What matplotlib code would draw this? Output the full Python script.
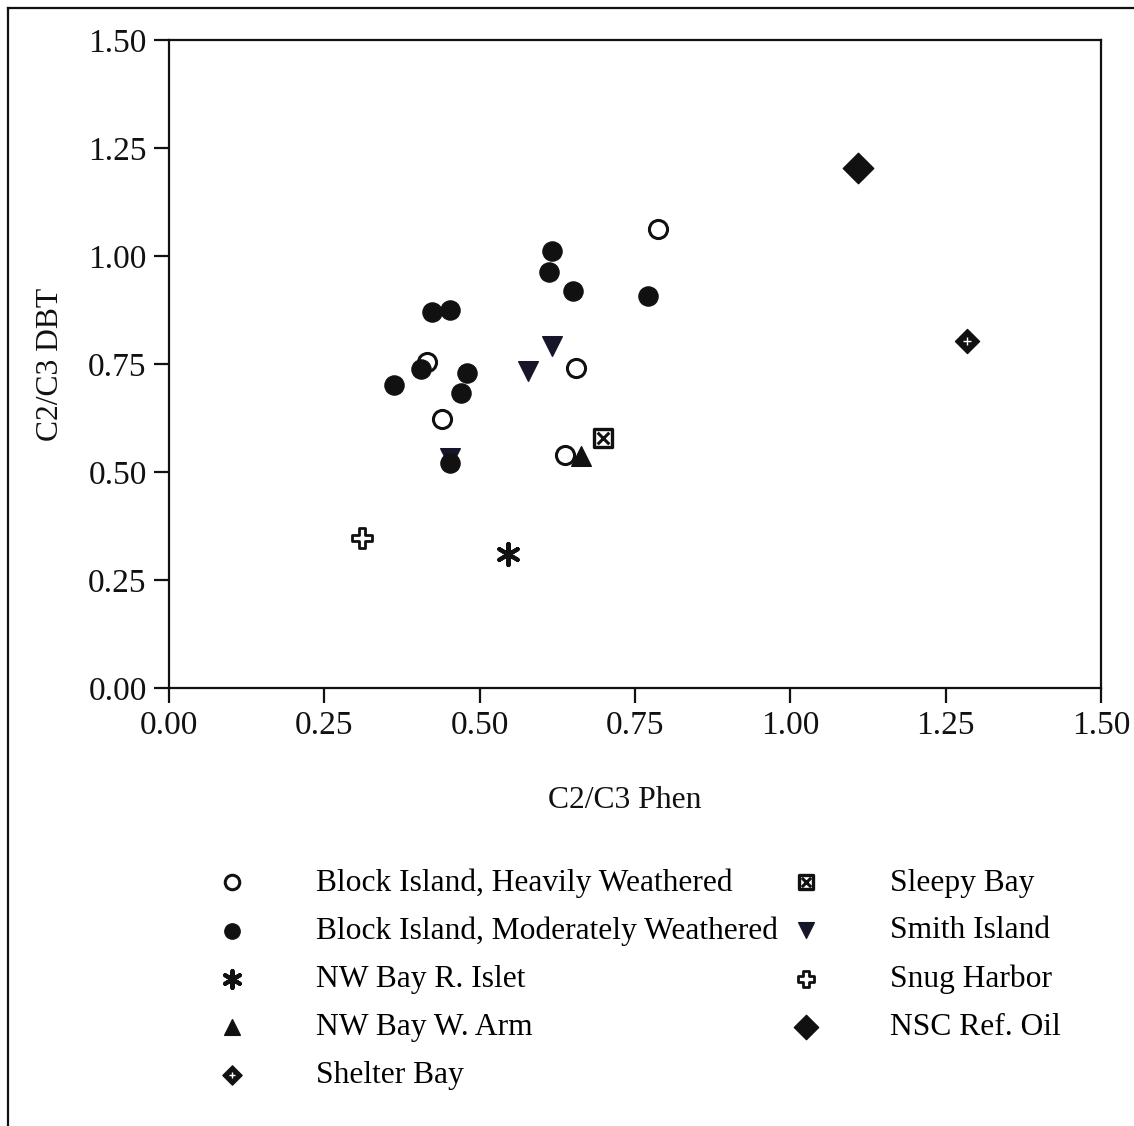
import matplotlib
matplotlib.use("Agg")
import matplotlib.pyplot as plt
from matplotlib.lines import Line2D

plt.rcParams["font.family"] = ["Liberation Serif", "DejaVu Serif"]

# C2/C3 Phen (x) vs C2/C3 DBT (y) for each sample group
heavy_x = [0.787, 0.415, 0.655, 0.439, 0.637]
heavy_y = [1.062, 0.755, 0.741, 0.623, 0.539]

moderate_x = [0.616, 0.611, 0.650, 0.771, 0.423, 0.452, 0.405, 0.362, 0.479, 0.470, 0.452]
moderate_y = [1.012, 0.963, 0.919, 0.907, 0.870, 0.875, 0.738, 0.701, 0.729, 0.683, 0.521]

islet_x = [0.545]
islet_y = [0.310]

warm_x = [0.663]
warm_y = [0.537]

shelter_x = [1.284]
shelter_y = [0.803]

sleepy_x = [0.698]
sleepy_y = [0.579]

smith_x = [0.616, 0.578, 0.452]
smith_y = [0.792, 0.734, 0.533]

snug_x = [0.311]
snug_y = [0.347]

nsc_x = [1.109]
nsc_y = [1.204]

ticks = [0.0, 0.25, 0.5, 0.75, 1.0, 1.25, 1.5]
tick_labels = ["0.00", "0.25", "0.50", "0.75", "1.00", "1.25", "1.50"]

K = "#111111"

fig = plt.figure(figsize=(11.34, 11.26), dpi=100)
ax = fig.add_axes([0.149, 0.389, 0.822, 0.5755])

# smith island triangles drawn first (one sits behind a filled circle)
h_smith = ax.scatter(smith_x, smith_y, marker="v", s=200, c="#16162a", zorder=3)
h_heavy = ax.scatter(heavy_x, heavy_y, marker="o", s=170, facecolors="white",
                     edgecolors=K, linewidths=2.2, zorder=3)
h_mod = ax.scatter(moderate_x, moderate_y, marker="o", s=190, c=K, zorder=4)
h_islet = ax.scatter(islet_x, islet_y, marker=(6, 2, 0), s=230, c=K,
                     linewidths=3, zorder=4)
h_warm = ax.scatter(warm_x, warm_y, marker="^", s=200, c=K, zorder=3)
h_shel1 = ax.scatter(shelter_x, shelter_y, marker="D", s=150, c=K, zorder=4)
h_shel2 = ax.scatter(shelter_x, shelter_y, marker="+", s=35, c="white",
                     linewidths=1.0, zorder=5)
h_sl1 = ax.scatter(sleepy_x, sleepy_y, marker="s", s=170, facecolors="white",
                   edgecolors=K, linewidths=2.4, zorder=4)
h_sl2 = ax.scatter(sleepy_x, sleepy_y, marker="x", s=70, c=K,
                   linewidths=2.2, zorder=5)
h_snug = ax.scatter(snug_x, snug_y, marker="P", s=200, facecolors="white",
                    edgecolors=K, linewidths=2.0, zorder=4)
h_nsc = ax.scatter(nsc_x, nsc_y, marker="D", s=240, c=K, zorder=4)

ax.set_xlim(0, 1.5)
ax.set_ylim(0, 1.5)
ax.set_xticks(ticks)
ax.set_xticklabels(tick_labels)
ax.set_yticks(ticks)
ax.set_yticklabels(tick_labels)
ax.tick_params(direction="out", length=11, width=1.6, labelsize=24,
               colors=K, pad=5)
for sp in ax.spines.values():
    sp.set_linewidth(1.6)
    sp.set_color(K)

ax.set_xlabel("C2/C3 Phen", fontsize=22.8, color=K)
ax.set_ylabel("C2/C3 DBT", fontsize=22.8, color=K)
ax.xaxis.set_label_coords(0.489, -0.152)
ax.yaxis.set_label_coords(-0.112, 0.5)

handles = [h_heavy, h_mod, h_islet, h_warm, (h_shel1, h_shel2),
           (h_sl1, h_sl2), h_smith, h_snug, h_nsc]
labels = ["Block Island, Heavily Weathered",
          "Block Island, Moderately Weathered",
          "NW Bay R. Islet", "NW Bay W. Arm", "Shelter Bay",
          "Sleepy Bay", "Smith Island", "Snug Harbor", "NSC Ref. Oil"]

fig.legend(handles, labels, ncol=2, loc="upper left",
           bbox_to_anchor=(216 / 1134, 1 - 868 / 1126),
           frameon=False, fontsize=22.7, markerscale=0.8,
           handlelength=1.0, handletextpad=2.17, columnspacing=0.4,
           labelspacing=0.6, borderpad=0, borderaxespad=0)

# outer frame around the whole figure
fig.add_artist(Line2D([8 / 1134, 8 / 1134], [0, 1 - 8 / 1126],
                      transform=fig.transFigure, color=K, lw=1.6))
fig.add_artist(Line2D([8 / 1134, 1], [1 - 8 / 1126, 1 - 8 / 1126],
                      transform=fig.transFigure, color=K, lw=1.6))

fig.savefig("out.png", dpi=100)
